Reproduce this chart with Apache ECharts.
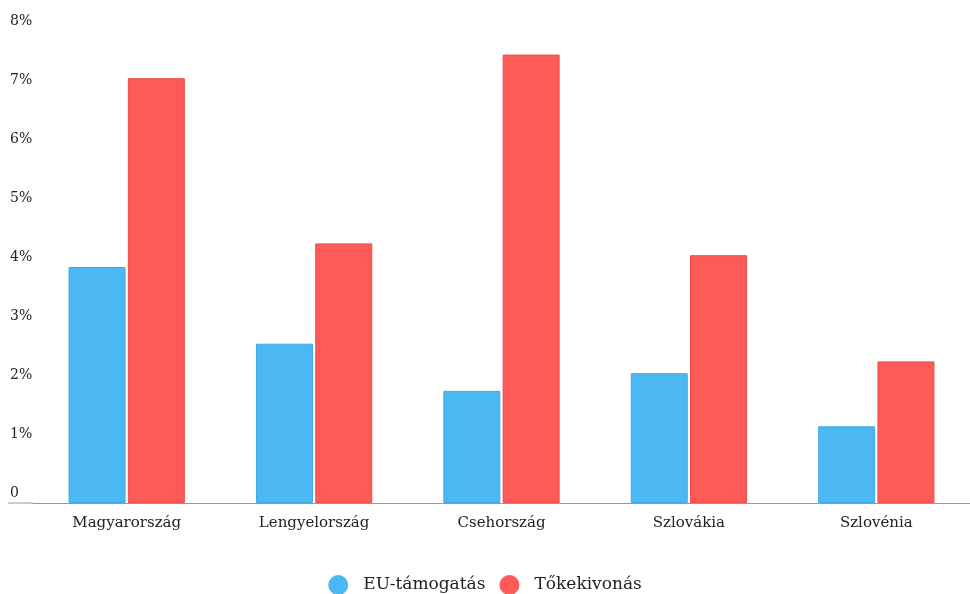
<!DOCTYPE html>
<html lang="hu">
<head>
    <meta charset="UTF-8">
    <title>EU-támogatás és tőkekivonás</title>
    <script src="https://cdn.jsdelivr.net/npm/echarts@6/dist/echarts.min.js"></script>
    <style>
        html, body { margin: 0; padding: 0; background: #fff; }
    </style>
</head>
<body>
<div id="main" style="width: 970px;height: 594px;"></div>

<script type="text/javascript">
    // adatok
    var countries = ['Magyarország', 'Lengyelország', 'Csehország', 'Szlovákia', 'Szlovénia'];
    var euSupport = [4.0, 2.7, 1.9, 2.2, 1.3];
    var capitalOutflow = [7.2, 4.4, 7.6, 4.2, 2.4];
    var yTicks = [0, 1, 2, 3, 4, 5, 6, 7, 8];

    var font = '"DejaVu Serif", serif';

    var myChart = echarts.init(document.getElementById('main'));

    var option = {
        textStyle: { fontFamily: font },
        animation: false,
        grid: { left: 33, right: -2, top: 31, bottom: 91 },
        legend: {
            data: ['EU-támogatás', 'Tőkekivonás'],
            icon: 'circle',
            itemWidth: 20,
            itemHeight: 20,
            itemGap: 14,
            top: 570,
            left: 'center',
            itemStyle: { borderWidth: 0 },
            textStyle: { fontFamily: font, fontSize: 17, color: '#222', padding: [0, 0, 0, 10] }
        },
        xAxis: {
            type: 'category',
            data: countries,
            axisLine: { lineStyle: { color: '#999', width: 1 } },
            axisTick: { show: false },
            axisLabel: { fontFamily: font, fontSize: 15, color: '#222', margin: 13 }
        },
        yAxis: {
            type: 'value',
            min: yTicks[0],
            max: yTicks[yTicks.length - 1],
            interval: 1,
            axisLine: { show: false },
            axisTick: { show: false },
            splitLine: { show: false },
            axisLabel: {
                fontFamily: font,
                fontSize: 14,
                color: '#222',
                align: 'left',
                verticalAlign: 'bottom',
                padding: [0, 0, 3, 0],
                margin: 23,
                formatter: function (v) { return v === 0 ? '0' : v + '%'; }
            }
        },
        // a tengelyvonal balra kinyúlik a rácson túl
        graphic: [{
            type: 'line',
            shape: { x1: 8, y1: 503, x2: 33, y2: 503 },
            style: { stroke: '#999', lineWidth: 1 }
        }],
        series: [
            {
                name: 'EU-támogatás',
                type: 'bar',
                data: euSupport,
                barWidth: 57,
                barGap: '4%',
                itemStyle: { color: '#4cb8f3', borderColor: '#3daae6', borderWidth: 1 }
            },
            {
                name: 'Tőkekivonás',
                type: 'bar',
                data: capitalOutflow,
                barWidth: 57,
                barGap: '4%',
                itemStyle: { color: '#fe5b58', borderColor: '#ee4a48', borderWidth: 1 }
            }
        ]
    };

    myChart.setOption(option);
</script>
</body>
</html>
